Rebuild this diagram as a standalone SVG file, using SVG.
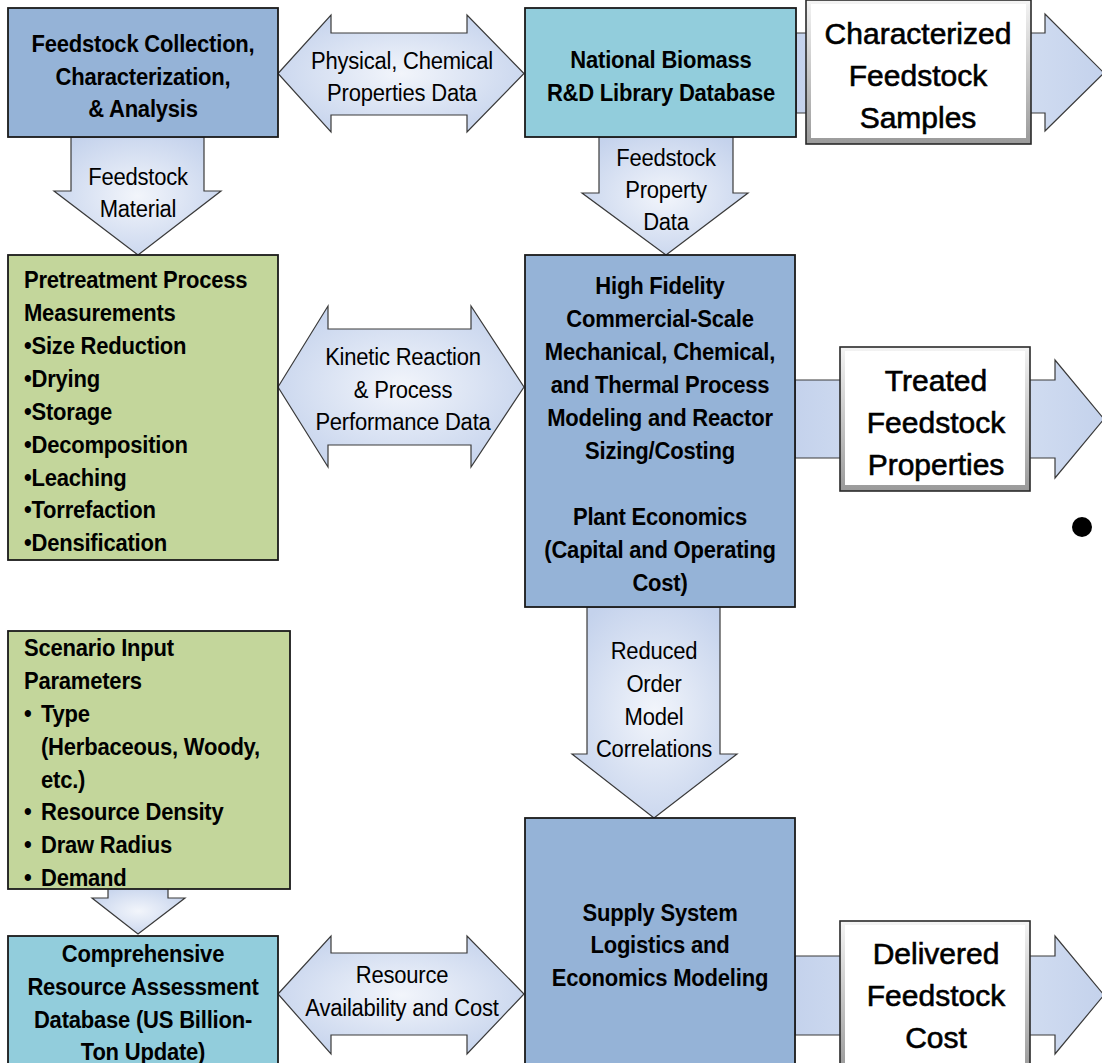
<svg xmlns="http://www.w3.org/2000/svg" width="1102" height="1063" viewBox="0 0 1102 1063">
<defs>
<radialGradient id="ag" cx="50%" cy="50%" r="60%">
<stop offset="0" stop-color="#f2f5fb"/>
<stop offset="1" stop-color="#c4d2ec"/>
</radialGradient>
<linearGradient id="og" x1="0" y1="0" x2="1" y2="0">
<stop offset="0" stop-color="#c4d2ec"/>
<stop offset="0.5" stop-color="#dde6f5"/>
<stop offset="1" stop-color="#c4d2ec"/>
</linearGradient>
<linearGradient id="bev" x1="0" y1="0" x2="0" y2="1">
<stop offset="0" stop-color="#f4f4f4"/>
<stop offset="1" stop-color="#9a9a9a"/>
</linearGradient>
</defs>
<style>
.box{stroke:#1a1a1a;stroke-width:1.8}
.blue{fill:#95b3d7}
.teal{fill:#92cddc}
.green{fill:#c3d69b}
.arr{fill:url(#ag);stroke:#3a3a3a;stroke-width:1.2}
.oarr{fill:url(#og);stroke:#3a3a3a;stroke-width:1.2}
.wout{fill:url(#bev);stroke:#2a2a2a;stroke-width:1.6}
.win{fill:#ffffff}
text{font-family:"Liberation Sans",Arial,sans-serif;fill:#000}
.b{font-weight:bold;font-size:22px;letter-spacing:-0.2px}
.r{font-size:22px;letter-spacing:-0.2px}
.b,.r{transform-box:fill-box;transform-origin:50% 50%;transform:scaleY(1.07)}
.o{font-size:30px;stroke:#000;stroke-width:0.6}
.c{text-anchor:middle}
</style>
<rect width="1102" height="1063" fill="#ffffff"/>

<g id="connectors">
<path class="arr" d="M278,73.5 L331,15 L331,33 L467,33 L467,15 L524,73.5 L467,132 L467,115 L331,115 L331,132 Z"/>
<path class="arr" d="M278,387 L328,306 L328,329 L471,329 L471,306 L524,387 L471,467 L471,445 L328,445 L328,467 Z"/>
<path class="arr" d="M278,994 L331,936 L331,953 L467,953 L467,936 L524,994 L467,1054 L467,1035 L331,1035 L331,1054 Z"/>
<path class="arr" d="M71,137 L204,137 L204,191 L221,191 L138,255 L54,191 L71,191 Z"/>
<path class="arr" d="M599,137 L733,137 L733,193 L748,193 L666,255 L582,193 L599,193 Z"/>
<path class="arr" d="M587,607 L720,607 L720,754 L737,754 L654,818 L572,754 L587,754 Z"/>
<path class="arr" d="M108,888 L168,888 L168,898 L185,898 L138,934 L92,898 L108,898 Z"/>
<path class="oarr" d="M796,33 L1045,33 L1045,14 L1104,73 L1045,131 L1045,113 L796,113 Z"/>
<path class="oarr" d="M795,380 L1055,380 L1055,360 L1104,419 L1055,478 L1055,458 L795,458 Z"/>
<path class="oarr" d="M795,956 L1055,956 L1055,936 L1104,995 L1055,1054 L1055,1035 L795,1035 Z"/>
</g>

<g id="n-collection">
<rect class="box blue" x="8" y="8" width="270" height="129"/>
<text class="b c" x="143" y="51">Feedstock Collection,</text>
<text class="b c" x="143" y="84">Characterization,</text>
<text class="b c" x="143" y="116">&amp; Analysis</text>
</g>

<g id="n-library">
<rect class="box teal" x="525" y="8" width="271" height="129"/>
<text class="b c" x="661" y="67">National Biomass</text>
<text class="b c" x="661" y="100">R&amp;D Library Database</text>
</g>

<g id="n-characterized">
<rect class="wout" x="806" y="0" width="225" height="144"/>
<rect class="win" x="811" y="4" width="215" height="134"/>
<text class="o c" x="918" y="44">Characterized</text>
<text class="o c" x="918" y="86">Feedstock</text>
<text class="o c" x="918" y="128">Samples</text>
</g>

<g id="n-pretreatment">
<rect class="box green" x="8" y="255" width="270" height="305"/>
<text class="b" x="24" y="287">Pretreatment Process</text>
<text class="b" x="24" y="320">Measurements</text>
<text class="b" x="24" y="353">•Size Reduction</text>
<text class="b" x="24" y="386">•Drying</text>
<text class="b" x="24" y="419">•Storage</text>
<text class="b" x="24" y="452">•Decomposition</text>
<text class="b" x="24" y="485">•Leaching</text>
<text class="b" x="24" y="517">•Torrefaction</text>
<text class="b" x="24" y="550">•Densification</text>
</g>

<g id="n-highfidelity">
<rect class="box blue" x="525" y="255" width="270" height="352"/>
<text class="b c" x="660" y="293">High Fidelity</text>
<text class="b c" x="660" y="326">Commercial-Scale</text>
<text class="b c" x="660" y="359">Mechanical, Chemical,</text>
<text class="b c" x="660" y="392">and Thermal Process</text>
<text class="b c" x="660" y="425">Modeling and Reactor</text>
<text class="b c" x="660" y="458">Sizing/Costing</text>
<text class="b c" x="660" y="524">Plant Economics</text>
<text class="b c" x="660" y="557">(Capital and Operating</text>
<text class="b c" x="660" y="590">Cost)</text>
</g>

<g id="n-treated">
<rect class="wout" x="840" y="347" width="190" height="144"/>
<rect class="win" x="845" y="351" width="180" height="134"/>
<text class="o c" x="936" y="391">Treated</text>
<text class="o c" x="936" y="433">Feedstock</text>
<text class="o c" x="936" y="475">Properties</text>
</g>

<circle id="dot" cx="1082" cy="527" r="10" fill="#000"/>

<g id="n-scenario">
<rect class="box green" x="8" y="631" width="282" height="258"/>
<text class="b" x="24" y="655">Scenario Input</text>
<text class="b" x="24" y="688">Parameters</text>
<text class="b" x="24" y="721">•</text><text class="b" x="41" y="721">Type</text>
<text class="b" x="41" y="754">(Herbaceous, Woody,</text>
<text class="b" x="41" y="787">etc.)</text>
<text class="b" x="24" y="819">•</text><text class="b" x="41" y="819">Resource Density</text>
<text class="b" x="24" y="852">•</text><text class="b" x="41" y="852">Draw Radius</text>
<text class="b" x="24" y="885">•</text><text class="b" x="41" y="885">Demand</text>
</g>

<g id="n-comprehensive">
<rect class="box teal" x="8" y="936" width="270" height="140"/>
<text class="b c" x="143" y="961">Comprehensive</text>
<text class="b c" x="143" y="994">Resource Assessment</text>
<text class="b c" x="143" y="1027">Database (US Billion-</text>
<text class="b c" x="143" y="1059">Ton Update)</text>
</g>

<g id="n-supply">
<rect class="box blue" x="525" y="818" width="270" height="260"/>
<text class="b c" x="660" y="920">Supply System</text>
<text class="b c" x="660" y="952">Logistics and</text>
<text class="b c" x="660" y="985">Economics Modeling</text>
</g>

<g id="n-delivered">
<rect class="wout" x="840" y="921" width="190" height="150"/>
<rect class="win" x="845" y="925" width="180" height="140"/>
<text class="o c" x="936" y="964">Delivered</text>
<text class="o c" x="936" y="1006">Feedstock</text>
<text class="o c" x="936" y="1048">Cost</text>
</g>

<g id="labels">
<text class="r c" x="402" y="68">Physical, Chemical</text>
<text class="r c" x="402" y="100">Properties Data</text>
<text class="r c" x="138" y="184">Feedstock</text>
<text class="r c" x="138" y="216">Material</text>
<text class="r c" x="666" y="165">Feedstock</text>
<text class="r c" x="666" y="197">Property</text>
<text class="r c" x="666" y="229">Data</text>
<text class="r c" x="403" y="364">Kinetic Reaction</text>
<text class="r c" x="403" y="397">&amp; Process</text>
<text class="r c" x="403" y="429">Performance Data</text>
<text class="r c" x="654" y="658">Reduced</text>
<text class="r c" x="654" y="691">Order</text>
<text class="r c" x="654" y="724">Model</text>
<text class="r c" x="654" y="756">Correlations</text>
<text class="r c" x="402" y="982">Resource</text>
<text class="r c" x="402" y="1015">Availability and Cost</text>
</g>
</svg>
